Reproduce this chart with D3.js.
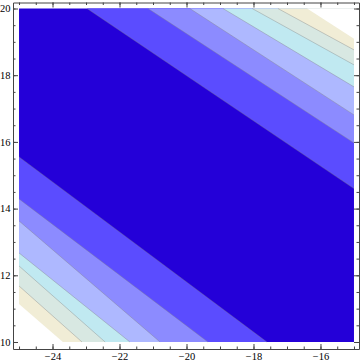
<!DOCTYPE html>
<html>
<head>
<meta charset="utf-8">
<script src="https://cdn.jsdelivr.net/npm/d3@7"></script>
<style>
  body { margin: 0; background: #fff; }
  svg { display: block; }
  .axis text { font-family: "Liberation Serif", "DejaVu Serif", serif; font-size: 10.5px; fill: #000; }
  .axis path, .axis line { stroke: #444; stroke-width: 1; }
  .contour { fill: none; stroke: #808080; stroke-opacity: 0.55; stroke-width: 0.7; }
</style>
</head>
<body>
<script>
const width = 362
const height = 363

// Contour boundaries, inner line first.
// Upper-right side: x where each line meets y = 20, y where it meets x = -15
const upperTopX = [-22.97, -21.15, -19.90, -18.91, -18.04, -17.27, -16.40]
const upperRightY = [14.60, 15.97, 16.81, 17.65, 18.31, 18.76, 19.09]
// Lower-left side: y where each line meets x = -25, x where it meets y = 10
const lowerLeftY = [15.55, 14.29, 13.63, 12.67, 12.28, 11.68, 11.14]
const lowerBottomX = [-17.60, -19.36, -20.79, -21.69, -22.43, -23.12, -23.69]

const xMajor = [-24, -22, -20, -18, -16]
const yMajor = [10, 12, 14, 16, 18, 20]
const tickStep = 0.5

// centre band colour, then one colour for each band outside line k
const bandColors = ['#2400d8', '#5b4cff', '#8c8bff', '#aeb8ff', '#c0e9f1', '#d8e8e2', '#f1edd6', '#ffffff']

const x0 = -25, x1 = -15, y0 = 10, y1 = 20

const x = d3.scaleLinear().domain([-25.18, -14.85]).range([13, 359])
const y = d3.scaleLinear().domain([9.79, 20.18]).range([349, 2.5])

const svg = d3.select('body').append('svg')
  .attr('width', width)
  .attr('height', height)

const plot = svg.append('g').classed('plot', true)

// centre band fills the whole plot range
plot.append('rect')
  .attr('x', x(x0)).attr('y', y(y1))
  .attr('width', x(x1) - x(x0))
  .attr('height', y(y0) - y(y1))
  .attr('fill', bandColors[0])

const line = d3.line().x(d => x(d[0])).y(d => y(d[1]))

// each band paints the corner triangle outside its inner boundary
const upper = upperTopX.map((tx, i) => [[tx, y1], [x1, y1], [x1, upperRightY[i]]])
const lower = lowerLeftY.map((ly, i) => [[x0, ly], [x0, y0], [lowerBottomX[i], y0]])

plot.selectAll('path.upper')
  .data(upper)
  .enter().append('path').classed('upper', true)
  .attr('d', d => line(d) + 'Z')
  .attr('fill', (d, i) => bandColors[i + 1])

plot.selectAll('path.lower')
  .data(lower)
  .enter().append('path').classed('lower', true)
  .attr('d', d => line(d) + 'Z')
  .attr('fill', (d, i) => bandColors[i + 1])

// contour lines (no line on the edge of the clipped white region)
const upperLines = upperTopX.slice(0, 6).map((tx, i) => [[tx, y1], [x1, upperRightY[i]]])
const lowerLines = lowerLeftY.slice(0, 6).map((ly, i) => [[x0, ly], [lowerBottomX[i], y0]])

plot.selectAll('path.contour')
  .data(upperLines.concat(lowerLines))
  .enter().append('path').classed('contour', true)
  .attr('d', line)

// frame with inward ticks
const minorX = d3.range(x0, x1 + 0.001, tickStep)
const minorY = d3.range(y0, y1 + 0.001, tickStep)
const fmt = d3.format('d')

function frameSide(axisFn, scale, minor, major, showLabels, transform, pad) {
  const g = svg.append('g').classed('axis', true).attr('transform', transform)
  g.call(axisFn(scale).tickValues(minor).tickSize(-2.5).tickSizeOuter(0).tickFormat(''))
  const gm = svg.append('g').classed('axis', true).attr('transform', transform)
  gm.call(axisFn(scale).tickValues(major).tickSize(-5).tickSizeOuter(0)
    .tickPadding(pad).tickFormat(showLabels ? fmt : ''))
  gm.select('.domain').remove()
  g.selectAll('text').remove()
}

frameSide(d3.axisBottom, x, minorX, xMajor, true, `translate(0,${y(9.79)})`, 4)
frameSide(d3.axisTop, x, minorX, xMajor, false, `translate(0,${y(20.18)})`, 3)
frameSide(d3.axisLeft, y, minorY, yMajor, true, `translate(${x(-25.18)},0)`, 2.5)
frameSide(d3.axisRight, y, minorY, yMajor, false, `translate(${x(-14.85)},0)`, 3)

svg.selectAll('.axis').attr('font-family', null).attr('font-size', null)
</script>
</body>
</html>
